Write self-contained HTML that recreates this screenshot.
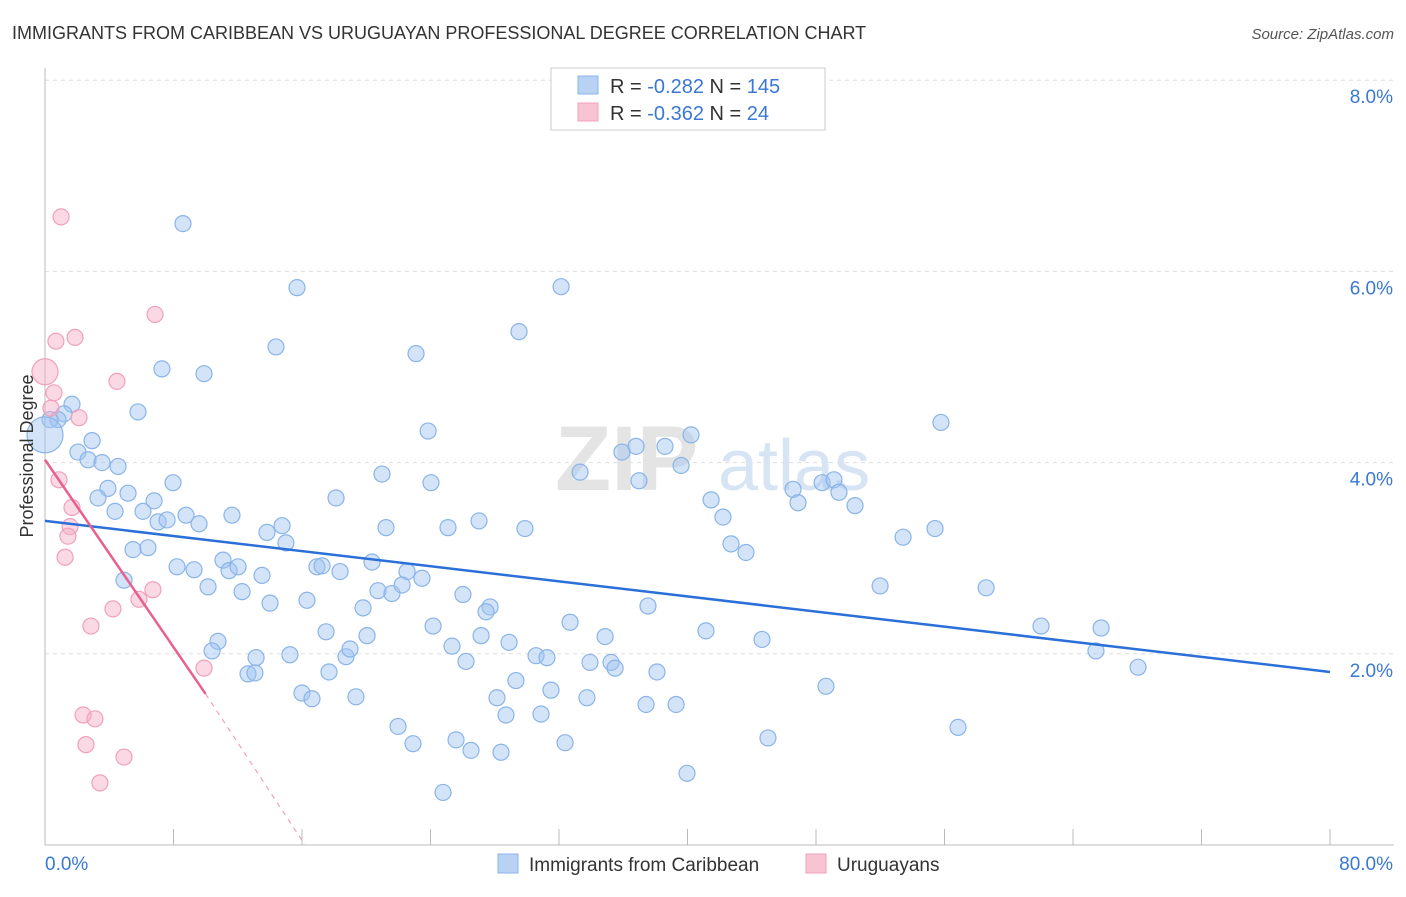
<!DOCTYPE html>
<html><head><meta charset="utf-8">
<style>
body{margin:0;background:#fff;font-family:"Liberation Sans",sans-serif;}
svg text{font-family:"Liberation Sans",sans-serif;}
</style></head>
<body>
<svg id="chart" width="1406" height="892" xmlns="http://www.w3.org/2000/svg">
<text x="12" y="39" font-size="18" fill="#333">IMMIGRANTS FROM CARIBBEAN VS URUGUAYAN PROFESSIONAL DEGREE CORRELATION CHART</text>
<text x="1394" y="39" font-size="15" fill="#555" text-anchor="end" font-style="italic">Source: ZipAtlas.com</text>
<g id="grid"></g>
<text x="555" y="490" font-size="92" fill="#e4e4e4" font-family="Liberation Serif" font-weight="bold">ZIP</text>
<text x="718" y="490" font-size="72" fill="#d6e4f4">atlas</text>
<g id="pts"></g>
<g id="trend"></g>
<text transform="translate(33,456) rotate(-90)" font-size="18" fill="#333" text-anchor="middle">Professional Degree</text>
<g>
<rect x="551" y="68" width="274" height="62" fill="#fff" stroke="#ccc"/>
<rect x="578" y="76" width="20" height="18" fill="#b8d2f4" stroke="#8ab4e8"/>
<rect x="578" y="103" width="20" height="18" fill="#f8c4d4" stroke="#f0a0bc"/>
<text x="610" y="93" font-size="20" fill="#333">R = <tspan fill="#3a78d4">-0.282</tspan>   N = <tspan fill="#3a78d4">145</tspan></text>
<text x="610" y="120" font-size="20" fill="#333">R = <tspan fill="#3a78d4">-0.362</tspan>   N =  <tspan fill="#3a78d4"> 24</tspan></text>
</g>
<g>
<rect x="498" y="854" width="20" height="19" fill="#b8d2f4" stroke="#8ab4e8"/>
<text x="529" y="871" font-size="19" fill="#333">Immigrants from Caribbean</text>
<rect x="806" y="854" width="20" height="19" fill="#f8c4d4" stroke="#f0a0bc"/>
<text x="837" y="871" font-size="19" fill="#333">Uruguayans</text>
</g>
</svg>
<script>
const blueX=[8.59,15.69,32.13,29.51,14.38,23.10,7.28,9.90,5.79,1.68,1.18,0.81,0.31,2.93,2.05,2.68,4.55,3.55,55.78,23.85,36.80,38.60,40.22,35.92,39.60,33.31,20.98,36.98,7.97,24.03,3.92,3.30,5.17,6.79,18.12,41.47,46.57,46.88,48.38,49.12,49.43,50.43,4.36,6.10,8.78,11.64,7.04,7.60,9.59,13.82,14.76,21.23,25.09,27.02,29.88,42.21,53.42,55.41,42.71,43.64,15.00,5.48,6.41,11.08,8.22,9.28,11.46,12.02,13.51,16.93,17.25,18.37,20.36,22.54,23.47,4.92,10.15,12.27,14.01,16.31,19.80,20.73,21.60,22.23,26.02,27.71,27.46,37.54,51.99,58.59,62.01,65.75,32.69,24.16,17.50,20.05,27.15,28.89,34.87,41.15,44.64,10.77,10.40,13.14,15.25,18.74,18.99,25.34,26.21,30.57,31.25,33.93,35.24,35.49,38.10,65.43,68.05,12.64,13.07,17.68,29.32,31.50,16.00,16.62,19.36,28.14,33.74,37.42,39.29,48.62,28.70,30.88,21.98,56.84,22.91,25.59,26.52,28.39,32.38,45.01,39.97,24.78];
const blueY=[6.50,5.83,5.84,5.37,5.21,5.14,4.98,4.93,4.53,4.61,4.51,4.45,4.45,4.23,4.11,4.03,3.96,4.00,4.42,4.33,4.17,4.17,4.29,4.11,3.97,3.90,3.88,3.81,3.79,3.79,3.73,3.63,3.68,3.60,3.63,3.61,3.72,3.58,3.79,3.82,3.69,3.55,3.49,3.49,3.45,3.45,3.38,3.40,3.36,3.27,3.34,3.32,3.32,3.39,3.31,3.43,3.22,3.31,3.15,3.06,3.16,3.09,3.11,2.98,2.91,2.88,2.87,2.91,2.82,2.91,2.92,2.86,2.96,2.86,2.79,2.77,2.70,2.65,2.53,2.56,2.48,2.66,2.63,2.72,2.62,2.49,2.44,2.50,2.71,2.69,2.29,2.27,2.33,2.29,2.23,2.19,2.19,2.12,2.18,2.24,2.15,2.13,2.03,1.96,1.99,1.97,2.05,2.08,1.92,1.98,1.96,1.91,1.91,1.85,1.81,2.03,1.86,1.79,1.80,1.81,1.72,1.62,1.59,1.53,1.55,1.54,1.54,1.47,1.47,1.66,1.36,1.37,1.24,1.23,1.06,1.10,0.99,0.97,1.07,1.12,0.75,0.55];
const pinkX=[1.00,6.85,1.87,0.68,4.48,0.56,2.12,0.37,0.87,1.68,1.56,1.43,1.25,6.72,5.85,4.23,2.86,9.90,2.37,3.11,2.55,4.92,3.42];
const pinkY=[6.57,5.55,5.31,5.27,4.85,4.73,4.47,4.57,3.82,3.53,3.33,3.23,3.01,2.67,2.57,2.47,2.29,1.85,1.36,1.32,1.05,0.92,0.65];
const bigBlue=[0,4.29], bigPink=[0,4.95];
const yTicks=[2,4,6,8];
const yTickLabels=["2.0%","4.0%","6.0%","8.0%"];
const blueTrend=[[0,3.39],[80,1.81]];
const pinkTrend=[[0,4.03],[10,1.58],[16.19,0]];
const X0=45,X1=1330,Y0=845,PY=95.6;
const sx=v=>X0+(v/80)*(X1-X0);
const sy=v=>Y0-v*PY;
const NS="http://www.w3.org/2000/svg";
function mk(t,a,p){const e=document.createElementNS(NS,t);for(const k in a)e.setAttribute(k,a[k]);p.appendChild(e);return e;}
const g=document.getElementById('grid');
yTicks.forEach((t,i)=>{
 const l=mk('line',{x1:X0,x2:1394,y1:sy(t),y2:sy(t),stroke:'#ddd','stroke-dasharray':'4,4'},g);
 
 
 const tx=mk('text',{x:1393,y:sy(t)+23,'font-size':19,fill:'#3a78d4','text-anchor':'end'},g);
 tx.textContent=yTickLabels[i];
 
 
});
const ax=mk('line',{x1:X0,x2:X0,y1:68,y2:Y0,stroke:'#bbb'},g);


const bx=mk('line',{x1:X0,x2:1394,y1:Y0,y2:Y0,stroke:'#bbb'},g);


for(let i=0;i<=10;i++){const t=mk('line',{x1:sx(i*8),x2:sx(i*8),y1:Y0,y2:Y0-16,stroke:'#bbb'},g);
 
 }
const xl=mk('text',{x:45,y:870,'font-size':19,fill:'#3a78d4'},g);xl.textContent='0.0%';


const xr=mk('text',{x:1393,y:870,'font-size':19,fill:'#3a78d4','text-anchor':'end'},g);xr.textContent='80.0%';


const p=document.getElementById('pts');
function pt(x,y,r,c){const e=mk('circle',{cx:sx(x),cy:sy(y),r:r,fill:c[0],stroke:c[1],'stroke-width':1.2},p);return e;}
const BC=['rgba(160,195,240,0.45)','#8ab4e8'],PC=['rgba(245,170,195,0.45)','#f0a0bc'];
blueX.forEach((x,i)=>{const e=pt(x,blueY[i],8,BC);
 
 });
let e1=pt(bigBlue[0],bigBlue[1],18,BC);


pinkX.forEach((x,i)=>{const e=pt(x,pinkY[i],8,PC);
 
 });
let e2=pt(bigPink[0],bigPink[1],13,PC);


const tr=document.getElementById('trend');
const bl=mk('line',{x1:sx(blueTrend[0][0]),y1:sy(blueTrend[0][1]),x2:sx(blueTrend[1][0]),y2:sy(blueTrend[1][1]),stroke:'#2a70d8','stroke-width':2.5},tr);


const pl=mk('line',{x1:sx(pinkTrend[0][0]),y1:sy(pinkTrend[0][1]),x2:sx(pinkTrend[1][0]),y2:sy(pinkTrend[1][1]),stroke:'#e8608c','stroke-width':2.5},tr);


const pd=mk('line',{x1:sx(pinkTrend[1][0]),y1:sy(pinkTrend[1][1]),x2:sx(pinkTrend[2][0]),y2:sy(pinkTrend[2][1]),stroke:'#f0a0bc','stroke-width':1.2,'stroke-dasharray':'5,5'},tr);


</script>
</body></html>
